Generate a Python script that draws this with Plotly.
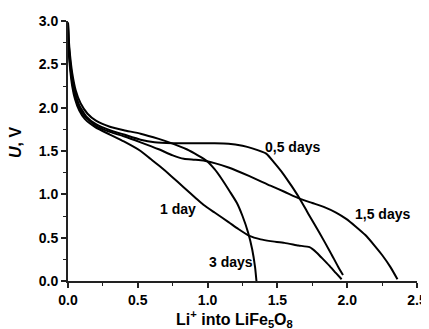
import plotly.graph_objects as go

# ---- data ----
x_half = [0, 0.005, 0.015, 0.03, 0.05, 0.08, 0.13, 0.2, 0.3, 0.4, 0.52, 0.62, 0.75, 0.9, 1.05, 1.15,
          1.25, 1.32, 1.42, 1.48, 1.54, 1.60, 1.66, 1.72, 1.80, 1.88, 1.94, 1.97]
u_half = [2.98, 2.75, 2.55, 2.35, 2.18, 2.03, 1.90, 1.81, 1.74, 1.69, 1.63, 1.60, 1.59, 1.59, 1.59, 1.585,
          1.56, 1.53, 1.47, 1.36, 1.24, 1.10, 0.95, 0.78, 0.56, 0.33, 0.15, 0.07]

x_one = [0, 0.005, 0.015, 0.03, 0.05, 0.08, 0.12, 0.2, 0.3, 0.4, 0.52, 0.59, 0.66, 0.74, 0.83, 0.92,
         0.97, 1.05, 1.15, 1.22, 1.30, 1.38, 1.45, 1.55, 1.65, 1.73, 1.78, 1.81, 1.87, 1.92, 1.96]
u_one = [2.98, 2.65, 2.45, 2.25, 2.10, 1.97, 1.87, 1.77, 1.69, 1.61, 1.50, 1.41, 1.32, 1.21, 1.08, 0.95,
         0.88, 0.79, 0.68, 0.60, 0.52, 0.48, 0.46, 0.44, 0.41, 0.39, 0.33, 0.28, 0.18, 0.09, 0.02]

x_one_half = [0, 0.005, 0.015, 0.03, 0.05, 0.08, 0.12, 0.2, 0.3, 0.4, 0.52, 0.65, 0.75, 0.83, 0.9, 0.97,
              1.05, 1.15, 1.30, 1.45, 1.55, 1.66, 1.75, 1.84, 1.92, 1.99, 2.06, 2.13, 2.20, 2.25, 2.31, 2.36]
u_one_half = [2.98, 2.70, 2.50, 2.30, 2.13, 2.00, 1.90, 1.79, 1.72, 1.67, 1.60, 1.52, 1.45, 1.41, 1.40, 1.39,
              1.36, 1.31, 1.21, 1.10, 1.03, 0.95, 0.90, 0.85, 0.79, 0.72, 0.63, 0.53, 0.40, 0.30, 0.16, 0.02]

x_three = [0, 0.005, 0.015, 0.03, 0.055, 0.09, 0.14, 0.2, 0.3, 0.4, 0.52, 0.65, 0.75, 0.85, 0.93, 0.99,
           1.05, 1.10, 1.16, 1.21, 1.25, 1.29, 1.32, 1.34, 1.35]
u_three = [2.98, 2.80, 2.60, 2.40, 2.20, 2.05, 1.93, 1.85, 1.78, 1.74, 1.70, 1.64, 1.585, 1.52, 1.45, 1.39,
           1.29, 1.18, 1.03, 0.90, 0.75, 0.56, 0.36, 0.16, 0.0]

labels = ["0,5 days", "1 day", "1,5 days", "3 days"]
label_x = [1.61, 0.785, 2.25, 1.17]
label_y = [1.545, 0.83, 0.77, 0.215]

x_ticks = [0.0, 0.5, 1.0, 1.5, 2.0, 2.5]
x_ticklabels = ["0.0", "0.5", "1.0", "1.5", "2.0", "2.5"]
y_ticks = [0.0, 0.5, 1.0, 1.5, 2.0, 2.5, 3.0]
y_ticklabels = ["0.0", "0.5", "1.0", "1.5", "2.0", "2.5", "3.0"]

x_title = "<b>Li<sup>+</sup> into LiFe<sub>5</sub>O<sub>8</sub></b>"
y_title = "<b><i>U</i>, V</b>"

FONT = "Liberation Sans, Arial, sans-serif"

fig = go.Figure()
for xs, ys, name in [(x_half, u_half, labels[0]), (x_one, u_one, labels[1]),
                     (x_one_half, u_one_half, labels[2]), (x_three, u_three, labels[3])]:
    fig.add_trace(go.Scatter(x=xs, y=ys, mode="lines", name=name,
                             line=dict(color="black", width=2, shape="spline", smoothing=0.5),
                             showlegend=False))

for t, lx, ly in zip(labels, label_x, label_y):
    fig.add_annotation(x=lx, y=ly, text="<b>" + t + "</b>", showarrow=False,
                       font=dict(family=FONT, size=14, color="black"))

# axis titles as paper-anchored annotations for exact placement
fig.add_annotation(x=0.476, y=0, xref="paper", yref="paper", xanchor="center", yanchor="top",
                   yshift=-25, text=x_title, showarrow=False,
                   font=dict(family=FONT, size=16, color="black"))
fig.add_annotation(x=0, y=0.5, xref="paper", yref="paper", xanchor="center", yanchor="middle",
                   xshift=-53, yshift=8, textangle=-90, text=y_title, showarrow=False,
                   font=dict(family=FONT, size=16, color="black"))

axis_common = dict(showline=True, linecolor="#222", linewidth=2, ticks="outside", ticklen=5,
                   tickwidth=1.5, tickcolor="#222", showgrid=False, zeroline=False,
                   automargin=False,
                   tickfont=dict(family=FONT, size=14, color="black", weight="bold"))

fig.update_xaxes(range=[0, 2.5], tickvals=x_ticks, ticktext=x_ticklabels,
                 minor=dict(ticks="outside", ticklen=3, dtick=0.25, tickcolor="#222", tickwidth=1),
                 **axis_common)
fig.update_yaxes(range=[0, 3.0], tickvals=y_ticks, ticktext=y_ticklabels,
                 minor=dict(ticks="outside", ticklen=3, dtick=0.25, tickcolor="#222", tickwidth=1),
                 **axis_common)

# the page body adds an 8px offset, so the figure is sized to fill the rest of the 429x329 window
fig.update_layout(width=421, height=321, plot_bgcolor="white", paper_bgcolor="white",
                  margin=dict(l=60, r=12, t=13, b=48))

fig.write_html("out.html")
